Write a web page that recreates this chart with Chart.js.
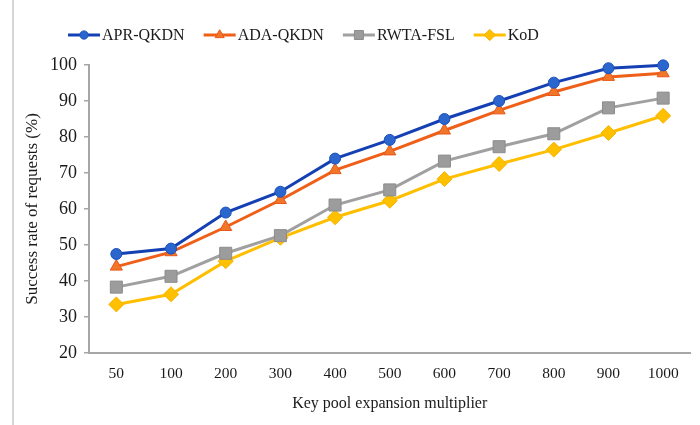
<!DOCTYPE html>
<html>
<head>
<meta charset="utf-8">
<script src="https://cdn.jsdelivr.net/npm/chart.js@4.4.1/dist/chart.umd.min.js"></script>
<style>
    html, body { margin: 0; padding: 0; background: #fff; }
    #wrap { width: 700px; height: 425px; position: relative; }
</style>
</head>
<body>
<div id="wrap"><canvas id="chart" width="700" height="425"></canvas></div>
<script>
const categories = ['50', '100', '200', '300', '400', '500', '600', '700', '800', '900', '1000'];
const aprQkdn = [47.5, 49, 59, 64.8, 74, 79.2, 85, 90, 95.1, 99.1, 99.9];
const adaQkdn = [44, 48, 55, 62.5, 70.8, 76, 81.8, 87.4, 92.5, 96.7, 97.7];
const rwtaFsl = [38.3, 41.3, 47.7, 52.6, 61.1, 65.3, 73.3, 77.3, 80.9, 88.1, 90.8];
const kod = [33.5, 36.3, 45.5, 52, 57.7, 62.3, 68.3, 72.5, 76.5, 81.1, 85.9];
const yTicks = [20, 30, 40, 50, 60, 70, 80, 90, 100];

const serif = '"Liberation Serif", "Times New Roman", serif';
const axisGray = '#a6a6a6';

// legend with a short line + marker, like the office-style chart
const lineLegend = {
    id: 'lineLegend',
    beforeDraw(chart) {
        const { ctx } = chart;
        ctx.save();
        ctx.fillStyle = '#ffffff';
        ctx.fillRect(0, 0, chart.width, chart.height);
        ctx.strokeStyle = '#d6d6d6';
        ctx.lineWidth = 2;
        ctx.beginPath();
        ctx.moveTo(13, 0);
        ctx.lineTo(13, chart.height);
        ctx.stroke();
        ctx.restore();
    },
    afterDraw(chart) {
        const { ctx } = chart;
        const y = 35;
        let x = 68;
        ctx.save();
        ctx.font = `16px ${serif}`;
        ctx.textBaseline = 'middle';
        chart.data.datasets.forEach((ds) => {
            ctx.strokeStyle = ds.borderColor;
            ctx.lineWidth = 3;
            ctx.beginPath();
            ctx.moveTo(x, y);
            ctx.lineTo(x + 32, y);
            ctx.stroke();
            ctx.fillStyle = ds.pointBackgroundColor;
            ctx.strokeStyle = ds.pointBorderColor;
            ctx.lineWidth = 1;
            Chart.helpers.drawPoint(ctx, {
                pointStyle: ds.pointStyle,
                radius: ds.legendRadius,
                borderWidth: 1,
                rotation: 0,
            }, x + 16, y);
            ctx.fillStyle = '#1a1a1a';
            ctx.fillText(ds.label, x + 34, y + 1);
            x += 34 + ctx.measureText(ds.label).width + 19;
        });
        ctx.restore();
    },
};

const makeSeries = (label, data, line, fill, edge, pointStyle, radius) => ({
    label,
    data,
    borderColor: line,
    borderWidth: 3,
    pointStyle,
    pointRadius: radius,
    pointHoverRadius: radius,
    legendRadius: radius * 0.75,
    pointBackgroundColor: fill,
    pointBorderColor: edge,
    pointBorderWidth: 1,
    tension: 0,
    clip: false,
});

new Chart(document.getElementById('chart'), {
    type: 'line',
    data: {
        labels: categories,
        datasets: [
            makeSeries('APR-QKDN', aprQkdn, '#1440b4', '#2b66cf', '#1d4fb8', 'circle', 5.5),
            makeSeries('ADA-QKDN', adaQkdn, '#ef5f17', '#f0762a', '#e8581a', 'triangle', 7),
            makeSeries('RWTA-FSL', rwtaFsl, '#a0a0a0', '#9c9c9c', '#8c8c8c', 'rect', 8.5),
            makeSeries('KoD', kod, '#ffbf00', '#ffc000', '#f5b400', 'rectRot', 7.5),
        ],
    },
    options: {
        responsive: false,
        animation: false,
        layout: { padding: { left: 20, right: 6, top: 65, bottom: 0 } },
        plugins: {
            legend: { display: false },
            tooltip: { enabled: false },
        },
        scales: {
            x: {
                offset: true,
                afterFit: (scale) => { scale.height = 72; },
                grid: { display: false, drawTicks: false },
                border: { display: true, color: axisGray, width: 2 },
                ticks: {
                    padding: 12,
                    color: '#1a1a1a',
                    font: { family: serif, size: 15.5 },
                    maxRotation: 0,
                    autoSkip: false,
                },
                title: {
                    display: true,
                    text: 'Key pool expansion multiplier',
                    color: '#1a1a1a',
                    font: { family: serif, size: 16 },
                    padding: { top: 4, bottom: 12 },
                },
            },
            y: {
                min: 20,
                max: 100,
                afterFit: (scale) => { scale.width = 69; },
                afterBuildTicks: (scale) => {
                    scale.ticks = yTicks.map((value) => ({ value }));
                },
                grid: {
                    drawOnChartArea: false,
                    drawTicks: true,
                    tickLength: 5,
                    color: axisGray,
                    lineWidth: 1.5,
                },
                border: { display: true, color: axisGray, width: 2 },
                ticks: {
                    padding: 7,
                    color: '#1a1a1a',
                    font: { family: serif, size: 18 },
                },
                title: {
                    display: true,
                    text: 'Success rate of requests (%)',
                    color: '#1a1a1a',
                    font: { family: serif, size: 17 },
                    padding: { top: 2, bottom: 4 },
                },
            },
        },
    },
    plugins: [lineLegend],
});
</script>
</body>
</html>
